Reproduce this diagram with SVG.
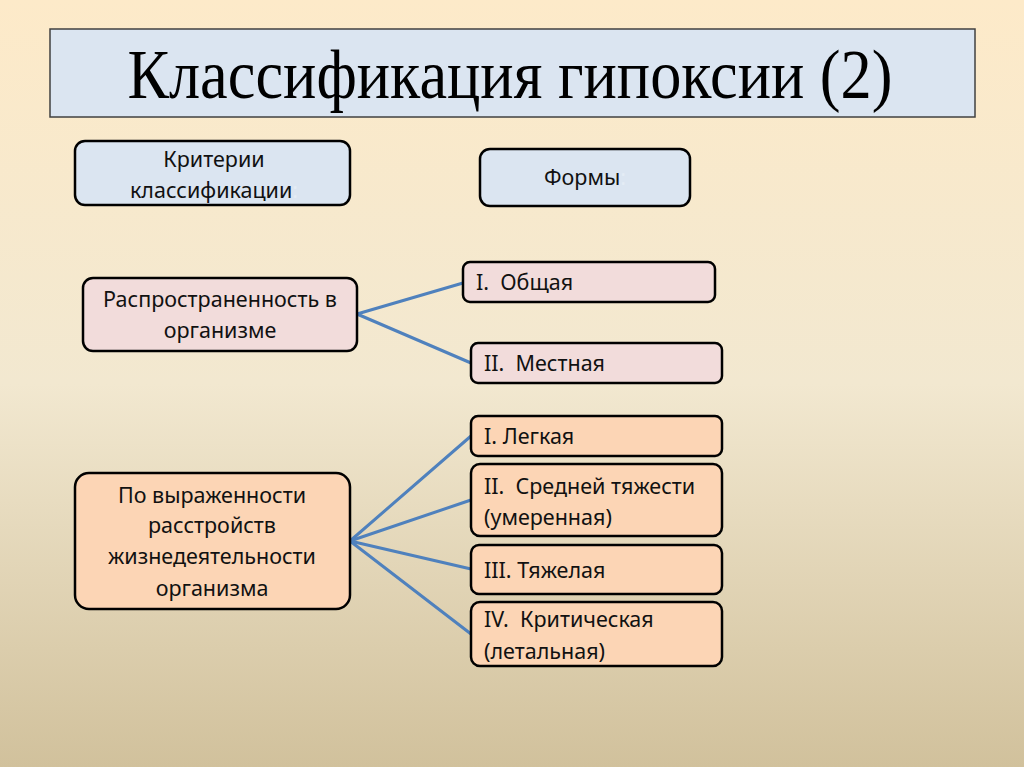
<svg xmlns="http://www.w3.org/2000/svg" width="1024" height="767" viewBox="0 0 1024 767">
<defs>
<linearGradient id="bg" x1="0" y1="0" x2="0" y2="1">
<stop offset="0" stop-color="#fdeac9"/>
<stop offset="0.5" stop-color="#f2e8d0"/>
<stop offset="1" stop-color="#d1c19c"/>
</linearGradient>
<style>
.box{stroke:#000;stroke-width:2.5}
.blue{fill:#dbe5f1}
.pink{fill:#f2dcdb}
.peach{fill:#fcd5b5}
.t{font-family:"Noto Sans","Open Sans",sans-serif;font-size:21.5px;fill:#111;white-space:pre}
.c{text-anchor:middle}
.faint{fill:#e4ecf5}
.con{stroke:#4f81bd;stroke-width:3;fill:none;stroke-linecap:round}
</style>
</defs>
<rect x="0" y="0" width="1024" height="767" fill="url(#bg)"/>
<g id="title">
<rect x="50" y="29" width="925" height="88" fill="#dbe5f1" stroke="#404040" stroke-width="1.5"/>
<text x="510" y="98" text-anchor="middle" font-family="'Liberation Serif','Times New Roman',serif" font-size="70" fill="#000" textLength="765" lengthAdjust="spacingAndGlyphs">Классификация гипоксии (2)</text>
</g>
<g id="connectors">
<line class="con" x1="357" y1="314" x2="463" y2="283"/>
<line class="con" x1="357" y1="314" x2="471" y2="363"/>
<line class="con" x1="350" y1="541" x2="471" y2="436"/>
<line class="con" x1="350" y1="541" x2="471" y2="500"/>
<line class="con" x1="350" y1="541" x2="471" y2="569"/>
<line class="con" x1="350" y1="541" x2="471" y2="634"/>
</g>
<g id="criteria">
<rect class="box blue" x="75" y="141" width="275" height="64" rx="10"/>
<text class="t c" x="214" y="167">Критерии</text>
<text class="t c" x="214" y="198">классификации<tspan class="faint">:</tspan></text>
</g>
<g id="forms">
<rect class="box blue" x="480" y="149" width="210" height="57" rx="10"/>
<text class="t c" x="585" y="185">Формы<tspan class="faint">:</tspan></text>
</g>
<g id="prevalence">
<rect class="box pink" x="83" y="278" width="274" height="73" rx="10"/>
<text class="t c" x="220" y="307">Распространенность в</text>
<text class="t c" x="220" y="338">организме</text>
</g>
<g id="general">
<rect class="box pink" x="463" y="262" width="252" height="40" rx="7"/>
<text class="t" x="476" y="290">I.  Общая</text>
</g>
<g id="local">
<rect class="box pink" x="471" y="343" width="251" height="40" rx="7"/>
<text class="t" x="484" y="371">II.  Местная</text>
</g>
<g id="severity">
<rect class="box peach" x="75" y="473" width="275" height="136" rx="14"/>
<text class="t c" x="212" y="503">По выраженности</text>
<text class="t c" x="212" y="533">расстройств</text>
<text class="t c" x="212" y="564">жизнедеятельности</text>
<text class="t c" x="212" y="596">организма</text>
</g>
<g id="mild">
<rect class="box peach" x="471" y="416" width="251" height="40" rx="7"/>
<text class="t" x="484" y="444">I. Легкая</text>
</g>
<g id="moderate">
<rect class="box peach" x="471" y="464" width="251" height="72" rx="9"/>
<text class="t" x="484" y="494">II.  Средней тяжести</text>
<text class="t" x="484" y="525">(умеренная)</text>
</g>
<g id="severe">
<rect class="box peach" x="471" y="545" width="251" height="49" rx="8"/>
<text class="t" x="484" y="578">III. Тяжелая</text>
</g>
<g id="critical">
<rect class="box peach" x="471" y="602" width="251" height="64" rx="9"/>
<text class="t" x="484" y="627">IV.  Критическая</text>
<text class="t" x="484" y="659">(летальная)</text>
</g>
</svg>
